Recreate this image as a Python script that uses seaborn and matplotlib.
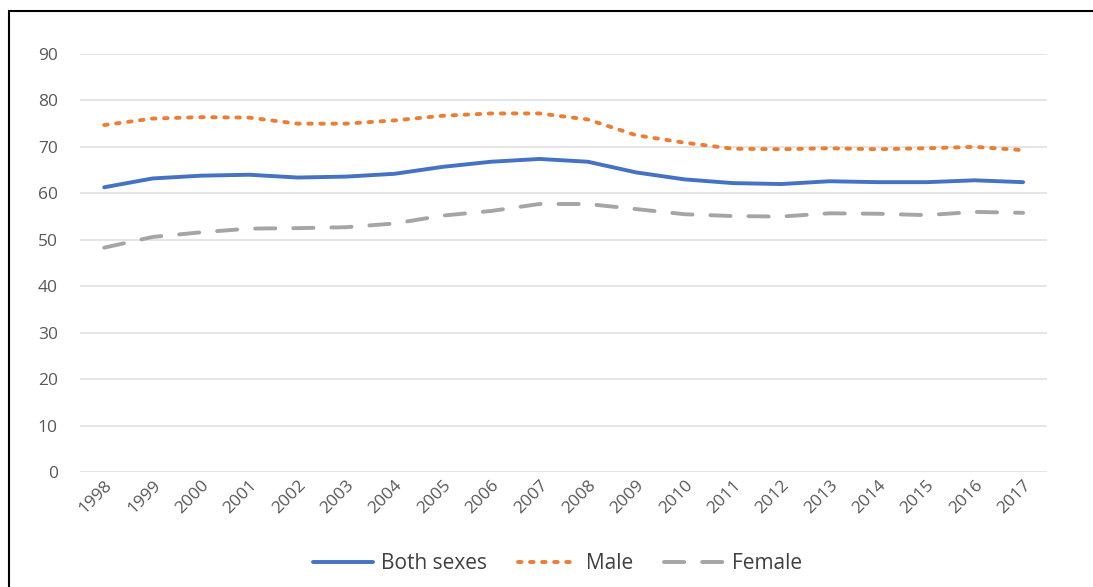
import numpy as np
import pandas as pd
import seaborn as sns
import matplotlib.pyplot as plt
from matplotlib.patches import Rectangle
from matplotlib.lines import Line2D

# data
years = list(range(1998, 2018))
both_sexes = [61.3, 63.2, 63.8, 64.0, 63.4, 63.6, 64.2, 65.7, 66.8, 67.4,
              66.8, 64.5, 63.0, 62.2, 62.0, 62.6, 62.4, 62.4, 62.8, 62.4]
male = [74.7, 76.1, 76.4, 76.3, 75.0, 75.0, 75.7, 76.7, 77.2, 77.2,
        75.9, 72.5, 70.9, 69.6, 69.5, 69.7, 69.5, 69.7, 70.0, 69.3]
female = [48.3, 50.6, 51.6, 52.4, 52.5, 52.7, 53.5, 55.2, 56.2, 57.7,
          57.7, 56.6, 55.5, 55.1, 55.0, 55.7, 55.6, 55.3, 56.0, 55.8]
series_names = ["Both sexes", "Male", "Female"]

df = pd.DataFrame({"Year": years, "Both sexes": both_sexes, "Male": male, "Female": female})
long_df = df.melt(id_vars="Year", var_name="Series", value_name="Value")

colors = {"Both sexes": "#4472C4", "Male": "#ED7D31", "Female": "#A5A5A5"}
dashes = {"Both sexes": "", "Male": (0.9, 2.2), "Female": (5.2, 4.6)}
lw = 2.8

sns.set_theme(style="white")
plt.rcParams['font.family'] = ['Open Sans', 'DejaVu Sans']

fig = plt.figure(figsize=(10.93, 5.87), dpi=100)
ax = fig.add_axes([0.0732, 0.196, 0.885, 0.712])

sns.lineplot(data=long_df, x="Year", y="Value", hue="Series", style="Series",
             hue_order=series_names, style_order=series_names,
             palette=colors, dashes=dashes, linewidth=lw, ax=ax, legend=False)
for line in ax.lines:
    line.set_dash_capstyle("round")
    line.set_solid_capstyle("round")

ax.set_xlim(years[0] - 0.5, years[-1] + 0.5)
ax.set_ylim(0, 90)
ax.set_yticks(range(0, 91, 10))
ax.set_xticks(years)
ax.set_xticklabels([str(y) for y in years], rotation=45, ha="right",
                   rotation_mode="anchor")
ax.tick_params(axis="both", length=0, labelsize=12.5, labelcolor="#595959")
ax.tick_params(axis="y", pad=16)
ax.tick_params(axis="x", pad=4)
ax.set_xlabel("")
ax.set_ylabel("")
ax.yaxis.grid(True, color="#E0E0E0", linewidth=1.2)
ax.set_axisbelow(True)
for s in ax.spines.values():
    s.set_visible(False)

# legend at the bottom
handles = []
for n in series_names:
    h = Line2D([], [], color=colors[n], linewidth=lw, dash_capstyle="round")
    if dashes[n]:
        h.set_dashes(dashes[n])
    handles.append(h)
fig.legend(handles, series_names, loc="center", bbox_to_anchor=(0.51, 0.04),
           ncol=3, frameon=False, fontsize=15, handlelength=2.9,
           handletextpad=0.35, columnspacing=1.5, labelcolor="#404040")

# partial frame (left and top edges visible)
fig.patches.append(Rectangle((0.008, -0.1), 1.2, 1.082, transform=fig.transFigure,
                             fill=False, edgecolor="black", linewidth=1.5))

fig.savefig("out.png", dpi=100)
